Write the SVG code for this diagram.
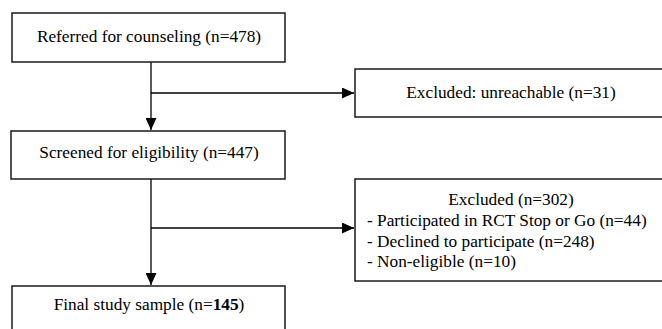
<svg xmlns="http://www.w3.org/2000/svg" width="662" height="329" viewBox="0 0 662 329">
<style>
.box{fill:#fff;stroke:#1a1a1a;stroke-width:1.5}
.t{font-family:"Liberation Serif","Times New Roman",serif;font-size:17.3px;fill:#000}
.c{text-anchor:middle}
.ln{stroke:#000;stroke-width:1.3;fill:none}
</style>
<defs>
<marker id="ah" viewBox="0 0 12 11" refX="12" refY="5.5" markerWidth="12" markerHeight="11" markerUnits="userSpaceOnUse" orient="auto">
<path d="M0,0 L12,5.5 L0,11 Z" fill="#000"/>
</marker>
</defs>
<rect width="662" height="329" fill="#fff"/>
<g id="connectors">
<line class="ln" x1="151" y1="62" x2="151" y2="130" marker-end="url(#ah)"/>
<line class="ln" x1="151" y1="93" x2="354" y2="93" marker-end="url(#ah)"/>
<line class="ln" x1="151" y1="179" x2="151" y2="285" marker-end="url(#ah)"/>
<line class="ln" x1="151" y1="228" x2="354" y2="228" marker-end="url(#ah)"/>
</g>
<g id="n1"><rect class="box" x="12" y="13" width="273" height="49"/><text class="t c" x="149" y="42">Referred for counseling (n=478)</text></g>
<g id="n2"><rect class="box" x="355" y="69" width="320" height="48"/><text class="t c" x="511" y="98">Excluded: unreachable (n=31)</text></g>
<g id="n3"><rect class="box" x="11" y="131" width="274" height="48"/><text class="t c" x="149" y="158">Screened for eligibility (n=447)</text></g>
<g id="n4"><rect class="box" x="355" y="179" width="320" height="102"/>
<text class="t c" x="511" y="205">Excluded (n=302)</text>
<text class="t" x="367" y="226">- Participated in RCT Stop or Go (n=44)</text>
<text class="t" x="367" y="247">- Declined to participate (n=248)</text>
<text class="t" x="367" y="267">- Non-eligible (n=10)</text>
</g>
<g id="n5"><rect class="box" x="12" y="286" width="273" height="60"/><text class="t c" x="149" y="310">Final study sample (n=<tspan font-weight="bold">145</tspan>)</text></g>
</svg>
